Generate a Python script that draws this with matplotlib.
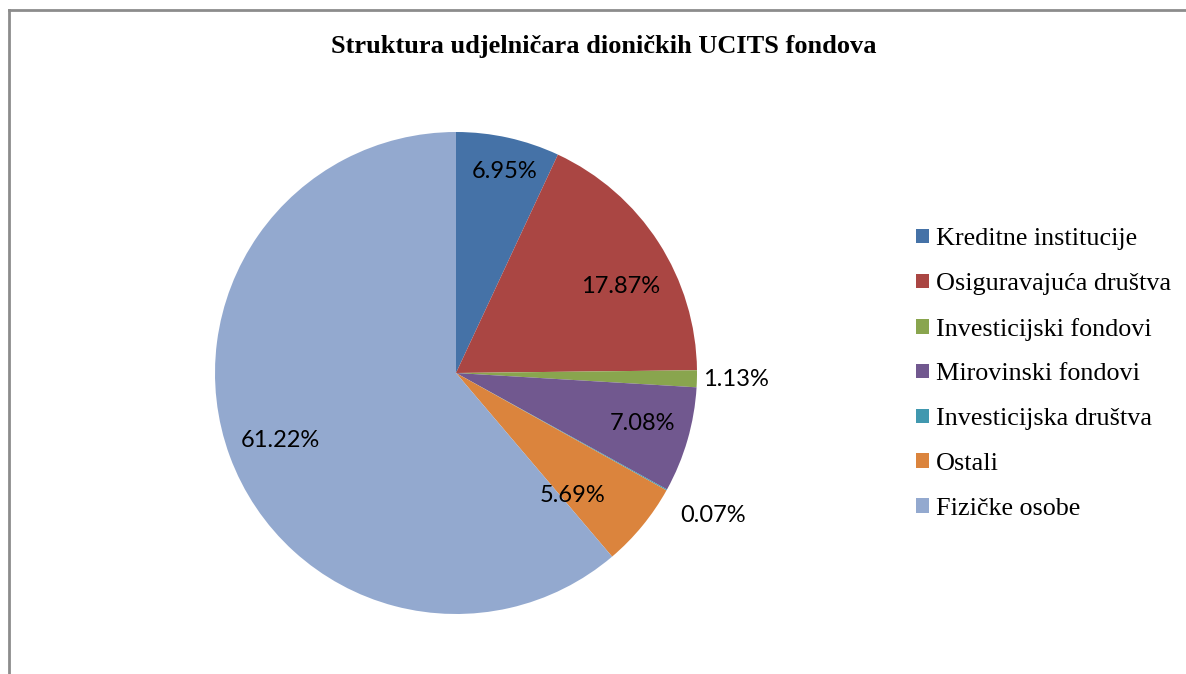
import matplotlib

matplotlib.use("Agg")
import matplotlib.pyplot as plt  # noqa: E402
from matplotlib.lines import Line2D  # noqa: E402
from matplotlib.patches import Patch  # noqa: E402
import numpy as np  # noqa: E402

TITLE = "Struktura udjelničara dioničkih UCITS fondova"
CATEGORIES = ["Kreditne institucije", "Osiguravajuća društva", "Investicijski fondovi",
              "Mirovinski fondovi", "Investicijska društva", "Ostali", "Fizičke osobe"]
SHARES = [6.95, 17.87, 1.13, 7.08, 0.07, 5.69, 61.22]
COLOURS = ["#4572A7", "#AA4643", "#89A54E", "#71588F", "#4198AF", "#DB843D", "#93A9CF"]
# label placement: distance from centre (fraction of radius) and angle nudge (deg)
LABEL_R = [0.86, 0.77, 1.16, 0.80, 1.22, 0.70, 0.78]
LABEL_NUDGE = [-1, -5, 0, 1, 0, -7, 1]

W, H = 1186, 674
fig = plt.figure(figsize=(W / 100, H / 100), dpi=100)

# pie axes: centre (456, 373), radius 241 px
cx, cy, r = 456, 373, 241
ax = fig.add_axes([(cx - r) / W, (H - cy - r) / H, 2 * r / W, 2 * r / H])
wedges, _ = ax.pie(SHARES, colors=COLOURS, startangle=90, counterclock=False,
                   radius=1.0, wedgeprops=dict(linewidth=0))
ax.set_xlim(-1, 1)
ax.set_ylim(-1, 1)
ax.set_aspect("equal")
ax.axis("off")

lab_font = dict(family=["Lato", "DejaVu Sans"], fontsize=17, color="black")
for w, v, lr, nd in zip(wedges, SHARES, LABEL_R, LABEL_NUDGE):
    mid = np.deg2rad((w.theta1 + w.theta2) / 2 + nd)
    x, y = lr * np.cos(mid), lr * np.sin(mid)
    ax.text(x, y, f"{v:.2f}%", ha="center", va="center", clip_on=False, **lab_font)

fig.text(604 / W, 1 - 47 / H, TITLE, ha="center", va="center",
         family="Liberation Serif", fontweight="bold", fontsize=19)

handles = [Patch(facecolor=c, edgecolor="none") for c in COLOURS]
fig.legend(handles, CATEGORIES, loc="center left",
           bbox_to_anchor=(906 / W, (H - 374) / H), frameon=False,
           prop=dict(family="Liberation Serif", size=18.8),
           handlelength=0.48, handleheight=0.48, handletextpad=0.27,
           labelspacing=0.87, borderaxespad=0)

# chart-area frame (top and left edges visible)
frame = dict(color="#8c8c8c", lw=2, transform=fig.transFigure)
fig.add_artist(Line2D([8.5 / W, 1], [1 - 9.5 / H] * 2, **frame))
fig.add_artist(Line2D([8.5 / W] * 2, [0, 1 - 9.5 / H], **frame))

fig.savefig("out.png", dpi=100)
